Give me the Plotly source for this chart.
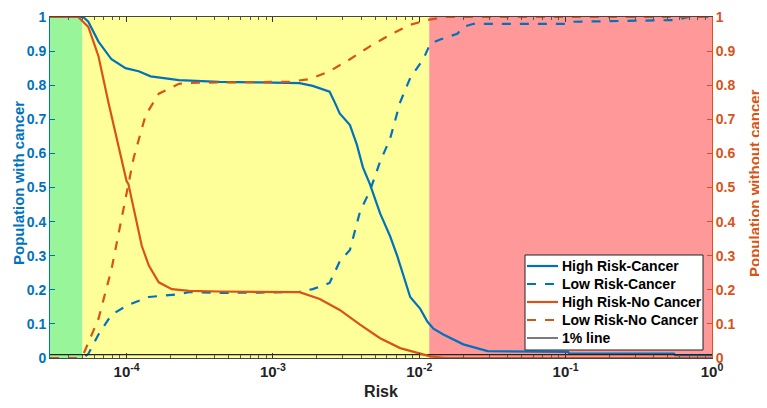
import plotly.graph_objects as go

# ---- data ----
risk_hc = [3.0e-5, 5.06e-5, 5.48e-5, 6.43e-5, 7.89e-5, 9.84e-5, 1.21e-4, 1.46e-4, 2.28e-4,
           4.29e-4, 8.07e-4, 1.52e-3, 1.87e-3, 2.44e-3, 2.65e-3, 2.86e-3, 3.36e-3, 3.75e-3,
           4.12e-3, 4.60e-3, 5.40e-3, 6.32e-3, 7.06e-3, 7.76e-3, 8.67e-3, 1.016e-2, 1.135e-2,
           1.25e-2, 1.46e-2, 2.00e-2, 2.93e-2, 0.104, 0.106, 0.55, 0.56, 1.0]
high_cancer = [1.0, 1.0, 0.986, 0.928, 0.876, 0.850, 0.841, 0.826, 0.815,
               0.810, 0.808, 0.806, 0.798, 0.781, 0.749, 0.717, 0.683, 0.625,
               0.559, 0.51, 0.424, 0.357, 0.30, 0.242, 0.179, 0.144, 0.107,
               0.086, 0.069, 0.040, 0.020, 0.018, 0.013, 0.013, 0.008, 0.008]

risk_lc = [3.0e-5, 5.06e-5, 5.48e-5, 6.43e-5, 7.89e-5, 1.03e-4, 1.42e-4, 2.28e-4, 2.67e-4,
           4.29e-4, 8.07e-4, 1.52e-3, 1.87e-3, 2.44e-3, 2.86e-3, 3.36e-3, 3.94e-3, 4.60e-3,
           5.40e-3, 6.32e-3, 7.40e-3, 8.67e-3, 1.064e-2, 1.19e-2, 1.39e-2, 1.82e-2, 2.00e-2,
           2.35e-2, 0.104, 0.114, 0.557, 0.695, 1.0]
low_cancer = [0.0, 0.0, 0.012, 0.069, 0.127, 0.156, 0.179, 0.187, 0.193,
              0.191, 0.192, 0.194, 0.202, 0.22, 0.283, 0.317, 0.43, 0.49,
              0.576, 0.643, 0.75, 0.821, 0.876, 0.922, 0.934, 0.951, 0.971,
              0.98, 0.98, 0.986, 0.991, 1.0, 1.0]

risk_hn = [3.0e-5, 4.68e-5, 5.48e-5, 6.43e-5, 7.52e-5, 8.81e-5, 1.0e-4, 1.03e-4, 1.15e-4,
           1.27e-4, 1.42e-4, 1.66e-4, 2.04e-4, 2.67e-4, 4.29e-4, 8.07e-4, 1.52e-3, 2.09e-3,
           2.86e-3, 3.94e-3, 5.40e-3, 7.40e-3, 1.016e-2, 1.19e-2, 1.5e-2, 1.0]
high_nocancer = [1.0, 1.0, 0.971, 0.885, 0.749, 0.625, 0.519, 0.51, 0.415,
                 0.329, 0.271, 0.222, 0.202, 0.197, 0.195, 0.195, 0.193, 0.173,
                 0.141, 0.098, 0.058, 0.029, 0.014, 0.005, 0.0, 0.0]

risk_ln = [3.0e-5, 4.68e-5, 5.06e-5, 6.43e-5, 7.89e-5, 9.24e-5, 1.03e-4, 1.12e-4, 1.35e-4,
           1.66e-4, 2.28e-4, 2.67e-4, 4.29e-4, 8.07e-4, 1.30e-3, 1.78e-3, 2.44e-3, 3.36e-3,
           4.60e-3, 6.32e-3, 8.67e-3, 1.135e-2, 1.5e-2, 1.0]
low_nocancer = [0.0, 0.0, 0.01, 0.115, 0.26, 0.415, 0.51, 0.588, 0.712,
                0.775, 0.804, 0.807, 0.808, 0.808, 0.81, 0.818, 0.841, 0.876,
                0.914, 0.948, 0.977, 0.991, 1.0, 1.0]

one_pct_x = [3.0e-5, 1.0]
one_pct_y = [0.01, 0.01]

# risk zones (green / yellow / red)
zone_edges = [3.0e-5, 5.0e-5, 1.17e-2, 1.0]
zone_colors = ["#99F59A", "#FFFF99", "#FF9999"]

x_tickvals = [1e-4, 1e-3, 1e-2, 1e-1, 1]
x_ticktext = ["10<sup>-4</sup>", "10<sup>-3</sup>", "10<sup>-2</sup>", "10<sup>-1</sup>", "10<sup>0</sup>"]
x_minor = [m * 10.0 ** e for e in range(-5, 0) for m in range(2, 10)]
y_ticks = [i / 10 for i in range(11)]
y_ticktext = ["0", "0.1", "0.2", "0.3", "0.4", "0.5", "0.6", "0.7", "0.8", "0.9", "1"]

legend_names = ["High Risk-Cancer", "Low Risk-Cancer", "High Risk-No Cancer",
                "Low Risk-No Cancer", "1% line"]

BLUE = "#0072BD"
ORANGE = "#D95319"
FONT = "Liberation Sans"
legend_styles = [(BLUE, "solid", 2.2), (BLUE, "dash", 2.2), (ORANGE, "solid", 2.2),
                 (ORANGE, "dash", 2.2), ("#222222", "solid", 1.2)]

# layout geometry (the page body adds an 8px margin around the figure)
W, H = 759, 400
ML, MR, MT, MB = 42, 55, 9, 50
PW, PH = W - ML - MR, H - MT - MB
OFF = 8


def paper_x(page_px):
    return (page_px - OFF - ML) / PW


def paper_y(page_py):
    return (H - MB + OFF - page_py) / PH


fig = go.Figure()

for i, c in enumerate(zone_colors):
    fig.add_shape(type="rect", xref="x", yref="paper",
                  x0=zone_edges[i], x1=zone_edges[i + 1], y0=0, y1=1,
                  fillcolor=c, line_width=0, layer="below")

fig.add_trace(go.Scatter(x=risk_hc, y=high_cancer, mode="lines", name=legend_names[0],
                         line=dict(color=BLUE, width=2.2)))
fig.add_trace(go.Scatter(x=risk_lc, y=low_cancer, mode="lines", name=legend_names[1],
                         line=dict(color=BLUE, width=2.2, dash="dash")))
fig.add_trace(go.Scatter(x=risk_hn, y=high_nocancer, mode="lines", name=legend_names[2],
                         line=dict(color=ORANGE, width=2.2), yaxis="y2"))
fig.add_trace(go.Scatter(x=risk_ln, y=low_nocancer, mode="lines", name=legend_names[3],
                         line=dict(color=ORANGE, width=2.2, dash="dash"), yaxis="y2"))
fig.add_trace(go.Scatter(x=one_pct_x, y=one_pct_y, mode="lines", name=legend_names[4],
                         line=dict(color="#222222", width=1.2)))

# legend box drawn by hand for a MATLAB-like compact layout
LEG_L, LEG_R, LEG_T, LEG_B = 525, 703, 255, 350
fig.add_shape(type="rect", xref="paper", yref="paper",
              x0=paper_x(LEG_L), x1=paper_x(LEG_R), y0=paper_y(LEG_B), y1=paper_y(LEG_T),
              fillcolor="white", line=dict(color="#222", width=1), layer="above")
for k, (name, (col, dash, lw)) in enumerate(zip(legend_names, legend_styles)):
    ry = 266 + 18 * k
    fig.add_shape(type="line", xref="paper", yref="paper",
                  x0=paper_x(527), x1=paper_x(558), y0=paper_y(ry), y1=paper_y(ry),
                  line=dict(color=col, width=lw, dash=dash), layer="above")
    fig.add_annotation(x=paper_x(560), y=paper_y(ry), xref="paper", yref="paper",
                       text=name, showarrow=False, xanchor="left", yanchor="middle",
                       font=dict(family=FONT, size=14, color="black", weight="bold"))

# axis titles placed like the reference
fig.add_annotation(x=paper_x(18), y=paper_y(183), xref="paper", yref="paper",
                   text="Population with cancer", textangle=-90, showarrow=False,
                   xanchor="center", yanchor="middle",
                   font=dict(family=FONT, size=15, color=BLUE, weight="bold"))
fig.add_annotation(x=paper_x(754), y=paper_y(183), xref="paper", yref="paper",
                   text="Population without cancer", textangle=-90, showarrow=False,
                   xanchor="center", yanchor="middle",
                   font=dict(family=FONT, size=15, color=ORANGE, weight="bold"))

fig.update_layout(
    width=W, height=H,
    margin=dict(l=ML, r=MR, t=MT, b=MB, autoexpand=False),
    paper_bgcolor="white", plot_bgcolor="white",
    font=dict(family=FONT, size=13, color="black"),
    showlegend=False,
    xaxis=dict(type="log", range=[-4.523, 0.0], tickvals=x_tickvals, ticktext=x_ticktext,
               ticks="inside", ticklen=5, tickcolor="#333", showgrid=False, zeroline=False,
               showline=True, linecolor="#444", linewidth=1, mirror="ticks", automargin=False,
               ticklabeloverflow="allow",
               tickfont=dict(family=FONT, size=15, color="#222", weight="bold"),
               minor=dict(tickmode="array", tickvals=x_minor, ticks="inside", ticklen=3,
                          tickcolor="#555", showgrid=False),
               title=dict(text="Risk", font=dict(family=FONT, size=16, color="#222", weight="bold"),
                          standoff=6)),
    yaxis=dict(range=[0, 1], tickvals=y_ticks, ticktext=y_ticktext, ticks="inside", ticklen=5,
               tickcolor=BLUE, showgrid=False, zeroline=False, showline=True, linecolor=BLUE,
               automargin=False, ticklabeloverflow="allow",
               tickfont=dict(family=FONT, size=14, color=BLUE, weight="bold")),
    yaxis2=dict(range=[0, 1], overlaying="y", side="right", tickvals=y_ticks, ticktext=y_ticktext,
                ticks="inside", ticklen=5, tickcolor=ORANGE, showgrid=False, zeroline=False,
                showline=True, linecolor=ORANGE, automargin=False, ticklabeloverflow="allow",
                tickfont=dict(family=FONT, size=14, color=ORANGE, weight="bold")),
)

fig.write_html("out.html")
